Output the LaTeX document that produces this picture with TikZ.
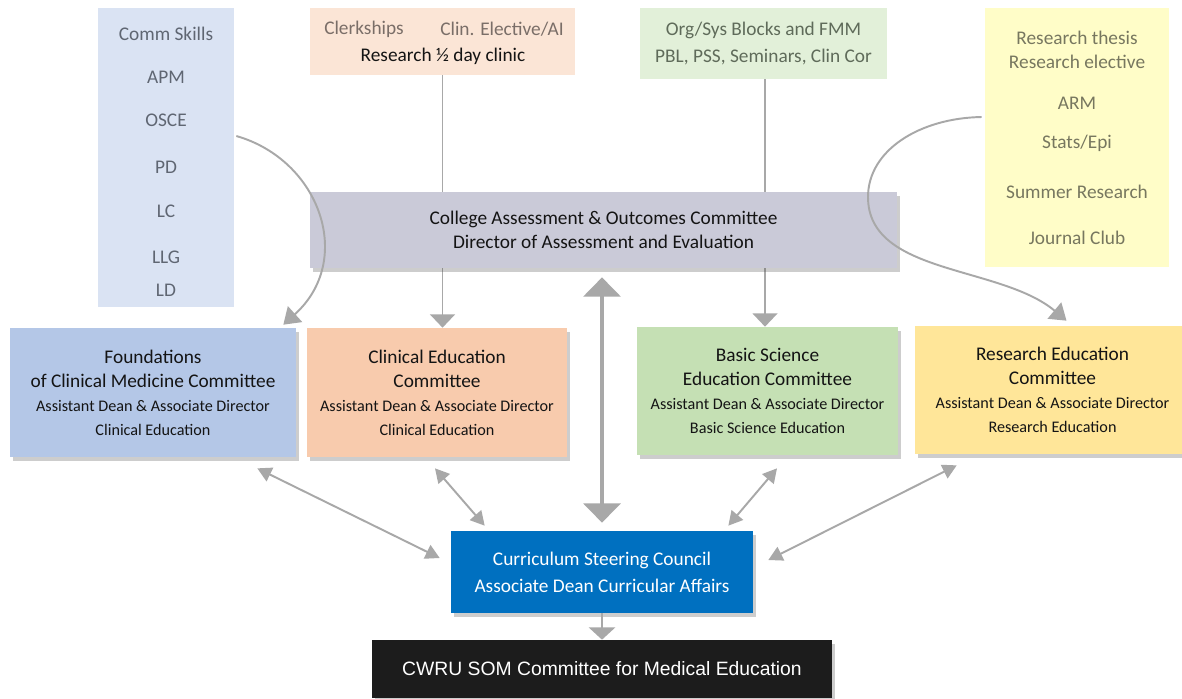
\documentclass[tikz,border=0pt]{standalone}
\usepackage{fontspec}
\setmainfont{Carlito}
\newfontfamily\arialfont{Liberation Sans}
\usetikzlibrary{arrows.meta,shadows,calc}
\pgfdeclarelayer{background}
\pgfsetlayers{background,main}

\definecolor{commfill}{HTML}{DAE3F3}
\definecolor{clerkfill}{HTML}{FBE5D6}
\definecolor{orgfill}{HTML}{E2F0D9}
\definecolor{thesisfill}{HTML}{FFFDC8}
\definecolor{caocfill}{HTML}{CACAD8}
\definecolor{foundfill}{HTML}{B4C7E7}
\definecolor{clinfill}{HTML}{F8CBAD}
\definecolor{basicfill}{HTML}{C5E0B4}
\definecolor{resedfill}{HTML}{FFE699}
\definecolor{cscfill}{HTML}{0070C0}
\definecolor{cwrufill}{HTML}{1C1C1C}
\definecolor{linegray}{HTML}{A8A8A8}
\definecolor{commtext}{HTML}{5F6672}
\definecolor{clerktext}{HTML}{7A6E68}
\definecolor{orgtext}{HTML}{5F6B5A}
\definecolor{thesistext}{HTML}{77775F}
\definecolor{inktext}{HTML}{141414}

\newcommand\mainsize{\fontsize{11}{13.6}\selectfont}
\newcommand\subsize{\fontsize{9.2}{13.6}\selectfont}

\tikzset{
  plain/.style={rectangle, inner sep=0pt, align=center},
  listbox/.style={plain, draw=none},
  committee/.style={plain, text=inktext, font=\mainsize,
    drop shadow={shadow xshift=1.5pt, shadow yshift=-2.5pt, opacity=0.28, fill=black!70}},
  item/.style={inner sep=0pt, font=\mainsize},
  feed/.style={linegray, line width=1.1pt, -{Triangle[width=14pt,length=7.5pt]}},
  link/.style={linegray, line width=1.1pt,
    {Triangle[width=8.5pt,length=8pt]}-{Triangle[width=8.5pt,length=8pt]}},
  curvefeed/.style={linegray, line width=1.1pt, -{Triangle[width=12pt,length=9pt]}},
  mainlink/.style={linegray, line width=2.2pt,
    {Triangle[width=21pt,length=11pt]}-{Triangle[width=21pt,length=11pt]}},
  report/.style={linegray, line width=1.1pt, -{Triangle[width=15pt,length=7pt]}},
}

\begin{document}
\begin{tikzpicture}[x=0.02cm, y=-0.02cm]
\useasboundingbox (0,0) rectangle (1182,698);

% ---- course lists feeding the committees ----
\node[listbox, fill=commfill, minimum width=2.72cm, minimum height=5.98cm] (comm) at (166,157.5) {};
\node[item, text=commtext] (cs1) at (166,34) {Comm Skills};
\node[item, text=commtext] (cs2) at (166,77) {APM};
\node[item, text=commtext] (cs3) at (166,120) {OSCE};
\node[item, text=commtext] (cs4) at (166,167) {PD};
\node[item, text=commtext] (cs5) at (166,211) {LC};
\node[item, text=commtext] (cs6) at (166,257) {LLG};
\node[item, text=commtext] (cs7) at (166,290) {LD};

\node[listbox, fill=clerkfill, minimum width=5.30cm, minimum height=1.34cm] (clerk) at (442.5,41.5) {};
\node[item, text=clerktext] (ck1) at (364,29) {Clerkships};
\node[item, text=clerktext] (ck2) at (502,29) {Clin. Elective/AI};
\node[item, text=inktext] (ck3) at (443,56) {Research ½ day clinic};

\node[listbox, fill=orgfill, text=orgtext, font=\fontsize{11}{15.9}\selectfont,
      minimum width=4.94cm, minimum height=1.42cm] (org) at (763.5,43.5)
  {Org/Sys Blocks and FMM\\PBL, PSS, Seminars, Clin Cor};

\node[listbox, fill=thesisfill, minimum width=3.68cm, minimum height=5.18cm] (thesis) at (1077,137.5) {};
\node[item, text=thesistext] (rt1) at (1077,38) {Research thesis};
\node[item, text=thesistext] (rt2) at (1077,62) {Research elective};
\node[item, text=thesistext] (rt3) at (1077,103) {ARM};
\node[item, text=thesistext] (rt4) at (1077,143) {Stats/Epi};
\node[item, text=thesistext] (rt5) at (1077,192) {Summer Research};
\node[item, text=thesistext] (rt6) at (1077,238) {Journal Club};

% ---- assessment committee ----
\node[committee, fill=caocfill, minimum width=11.74cm, minimum height=1.52cm] (caoc) at (603.5,230)
  {College Assessment \& Outcomes Committee\\Director of Assessment and Evaluation};

% ---- education committees ----
\node[committee, fill=foundfill, minimum width=5.72cm, minimum height=2.58cm] (found) at (153,392.5)
  {Foundations\\of Clinical Medicine Committee\\{\subsize Assistant Dean \& Associate Director}\\{\subsize Clinical Education}};
\node[committee, fill=clinfill, minimum width=5.20cm, minimum height=2.58cm] (clin) at (437,392.5)
  {Clinical Education\\Committee\\{\subsize Assistant Dean \& Associate Director}\\{\subsize Clinical Education}};
\node[committee, fill=basicfill, minimum width=5.22cm, minimum height=2.56cm] (basic) at (767.5,391)
  {Basic Science\\Education Committee\\{\subsize Assistant Dean \& Associate Director}\\{\subsize Basic Science Education}};
\node[committee, fill=resedfill, minimum width=5.50cm, minimum height=2.56cm] (resed) at (1052.5,390)
  {Research Education\\Committee\\{\subsize Assistant Dean \& Associate Director}\\{\subsize Research Education}};

% ---- steering council and school committee ----
\node[committee, fill=cscfill, text=white, font=\fontsize{11}{15.3}\selectfont,
      minimum width=6.04cm, minimum height=1.64cm] (csc) at (602,572)
  {Curriculum Steering Council\\Associate Dean Curricular Affairs};
\node[committee, fill=cwrufill, text=white, font=\arialfont\fontsize{11}{13}\selectfont,
      minimum width=9.20cm, minimum height=1.16cm] (cwru) at (602,669)
  {CWRU SOM Committee for Medical Education};

% ---- page ground and the straight feeds running behind the assessment committee ----
\begin{pgfonlayer}{background}
  \fill[white] (0,0) rectangle (1182,698);
  \draw[feed] (clerk.south) -- (clin.north -| clerk.south);
  \draw[feed] ($(org.south)+(1.5,0)$) -- ($(basic.north -| org.south)+(1.5,0)$);
\end{pgfonlayer}

% ---- curved feeds ----
\draw[curvefeed] ($(comm.east)+(2,-21.5)$) .. controls (320,160) and (355,260) .. ($(found.north east)+(-13,-3)$);
\draw[curvefeed] ($(thesis.west)+(-3,-20.5)$) .. controls (920,118) and (868,150) .. (868,197)
            .. controls (868,275) and (1000,265) .. ($(resed.north)+(14,-5)$);

% ---- two-way links with the steering council ----
\draw[mainlink] ($(csc.north)+(0,-8)$) -- ($(caoc.south)+(-1.5,9)$);
\draw[link] ($(found.south east)+(-39,11)$) -- ($(csc.west)+(-11,-14)$);
\draw[link] ($(clin.south)+(-2,11)$) -- ($(csc.north west)+(34,-5)$);
\draw[link] ($(basic.south)+(9.5,13)$) -- ($(csc.north east)+(-25,-5)$);
\draw[link] ($(resed.south west)+(42,11)$) -- ($(csc.east)+(15,-12)$);

\draw[report] (csc.south) -- (cwru.north);
\end{tikzpicture}
\end{document}
